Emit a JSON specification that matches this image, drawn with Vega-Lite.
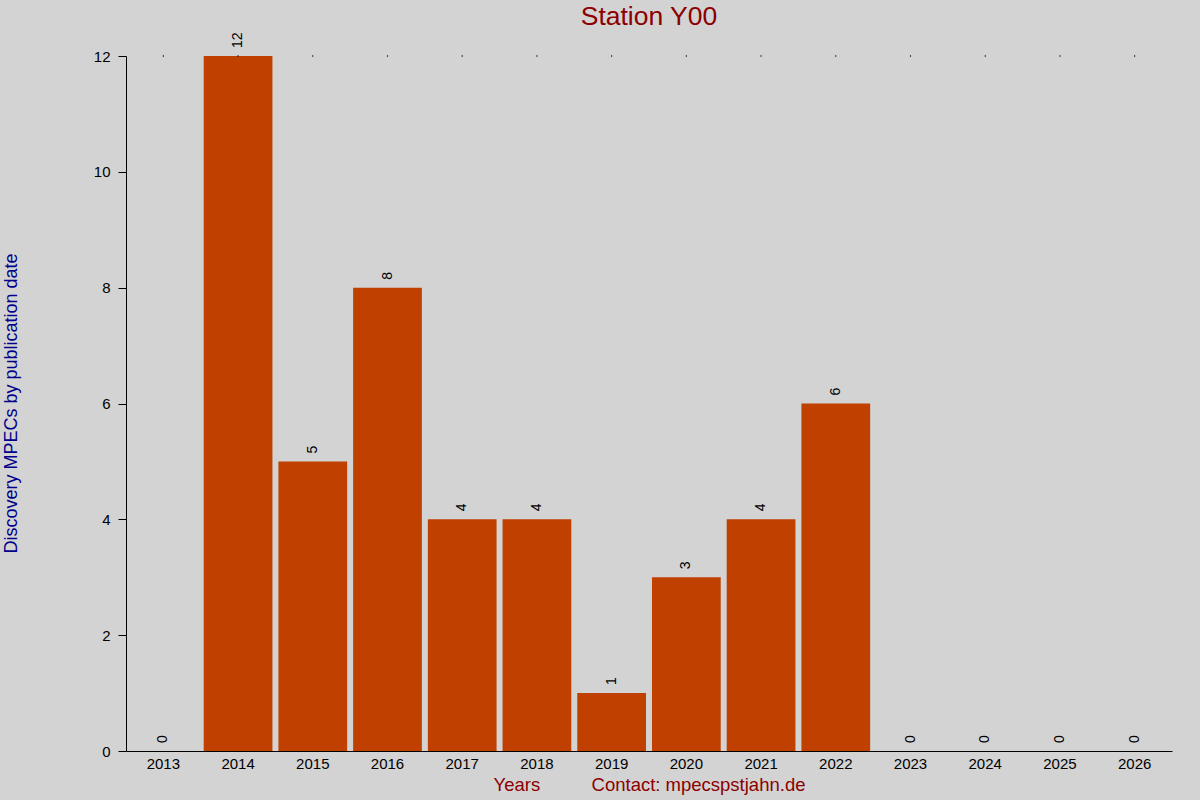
{
  "$schema": "https://vega.github.io/schema/vega-lite/v6.json",
  "width": 1046,
  "height": 695,
  "autosize": "none",
  "padding": {"left": 126, "top": 56, "right": 28, "bottom": 49},
  "background": "#d3d3d3",
  "config": {
    "view": {"stroke": null},
    "font": "Liberation Sans"
  },
  "title": {
    "text": "Station Y00",
    "color": "#8b0000",
    "fontSize": 26.5,
    "fontWeight": "normal",
    "anchor": "middle",
    "offset": 2
  },
  "data": {
    "values": [
      {"year": "2013", "count": 0},
      {"year": "2014", "count": 12},
      {"year": "2015", "count": 5},
      {"year": "2016", "count": 8},
      {"year": "2017", "count": 4},
      {"year": "2018", "count": 4},
      {"year": "2019", "count": 1},
      {"year": "2020", "count": 3},
      {"year": "2021", "count": 4},
      {"year": "2022", "count": 6},
      {"year": "2023", "count": 0},
      {"year": "2024", "count": 0},
      {"year": "2025", "count": 0},
      {"year": "2026", "count": 0}
    ]
  },
  "encoding": {
    "x": {
      "field": "year",
      "type": "ordinal",
      "scale": {"paddingInner": 0.08, "paddingOuter": 0.04},
      "axis": {
        "labelAngle": 0,
        "labelFontSize": 15,
        "labelColor": "#000000",
        "labelPadding": 5,
        "ticks": false,
        "domainColor": "#000000",
        "title": "Years\u00a0\u00a0\u00a0\u00a0\u00a0\u00a0\u00a0\u00a0\u00a0\u00a0Contact: mpecspstjahn.de",
        "titleColor": "#8b0000",
        "titleFontSize": 18.5,
        "titleFontWeight": "normal",
        "titlePadding": 4
      }
    }
  },
  "layer": [
    {
      "mark": {"type": "bar", "color": "#c04000"},
      "encoding": {
        "y": {
          "field": "count",
          "type": "quantitative",
          "scale": {"domain": [0, 12], "nice": false},
          "axis": {
            "values": [0, 2, 4, 6, 8, 10, 12],
            "format": "d",
            "grid": false,
            "labelFontSize": 15,
            "labelColor": "#000000",
            "tickColor": "#000000",
            "tickSize": 8,
            "labelPadding": 8,
            "domainColor": "#000000",
            "title": "Discovery MPECs by publication date",
            "titleColor": "#00008b",
            "titleFontSize": 18,
            "titleFontWeight": "normal",
            "titleAngle": -90,
            "titleBaseline": "middle",
            "titleAlign": "center",
            "titleX": -115,
            "titleY": 347
          }
        }
      }
    },
    {
      "mark": {"type": "point", "filled": true, "color": "#000000", "size": 2, "opacity": 1},
      "encoding": {"y": {"datum": 12}}
    },
    {
      "mark": {"type": "text", "angle": 270, "align": "left", "baseline": "middle", "dx": 8, "fontSize": 14, "color": "#000000"},
      "encoding": {
        "y": {"field": "count", "type": "quantitative"},
        "text": {"field": "count", "type": "quantitative"}
      }
    }
  ]
}
